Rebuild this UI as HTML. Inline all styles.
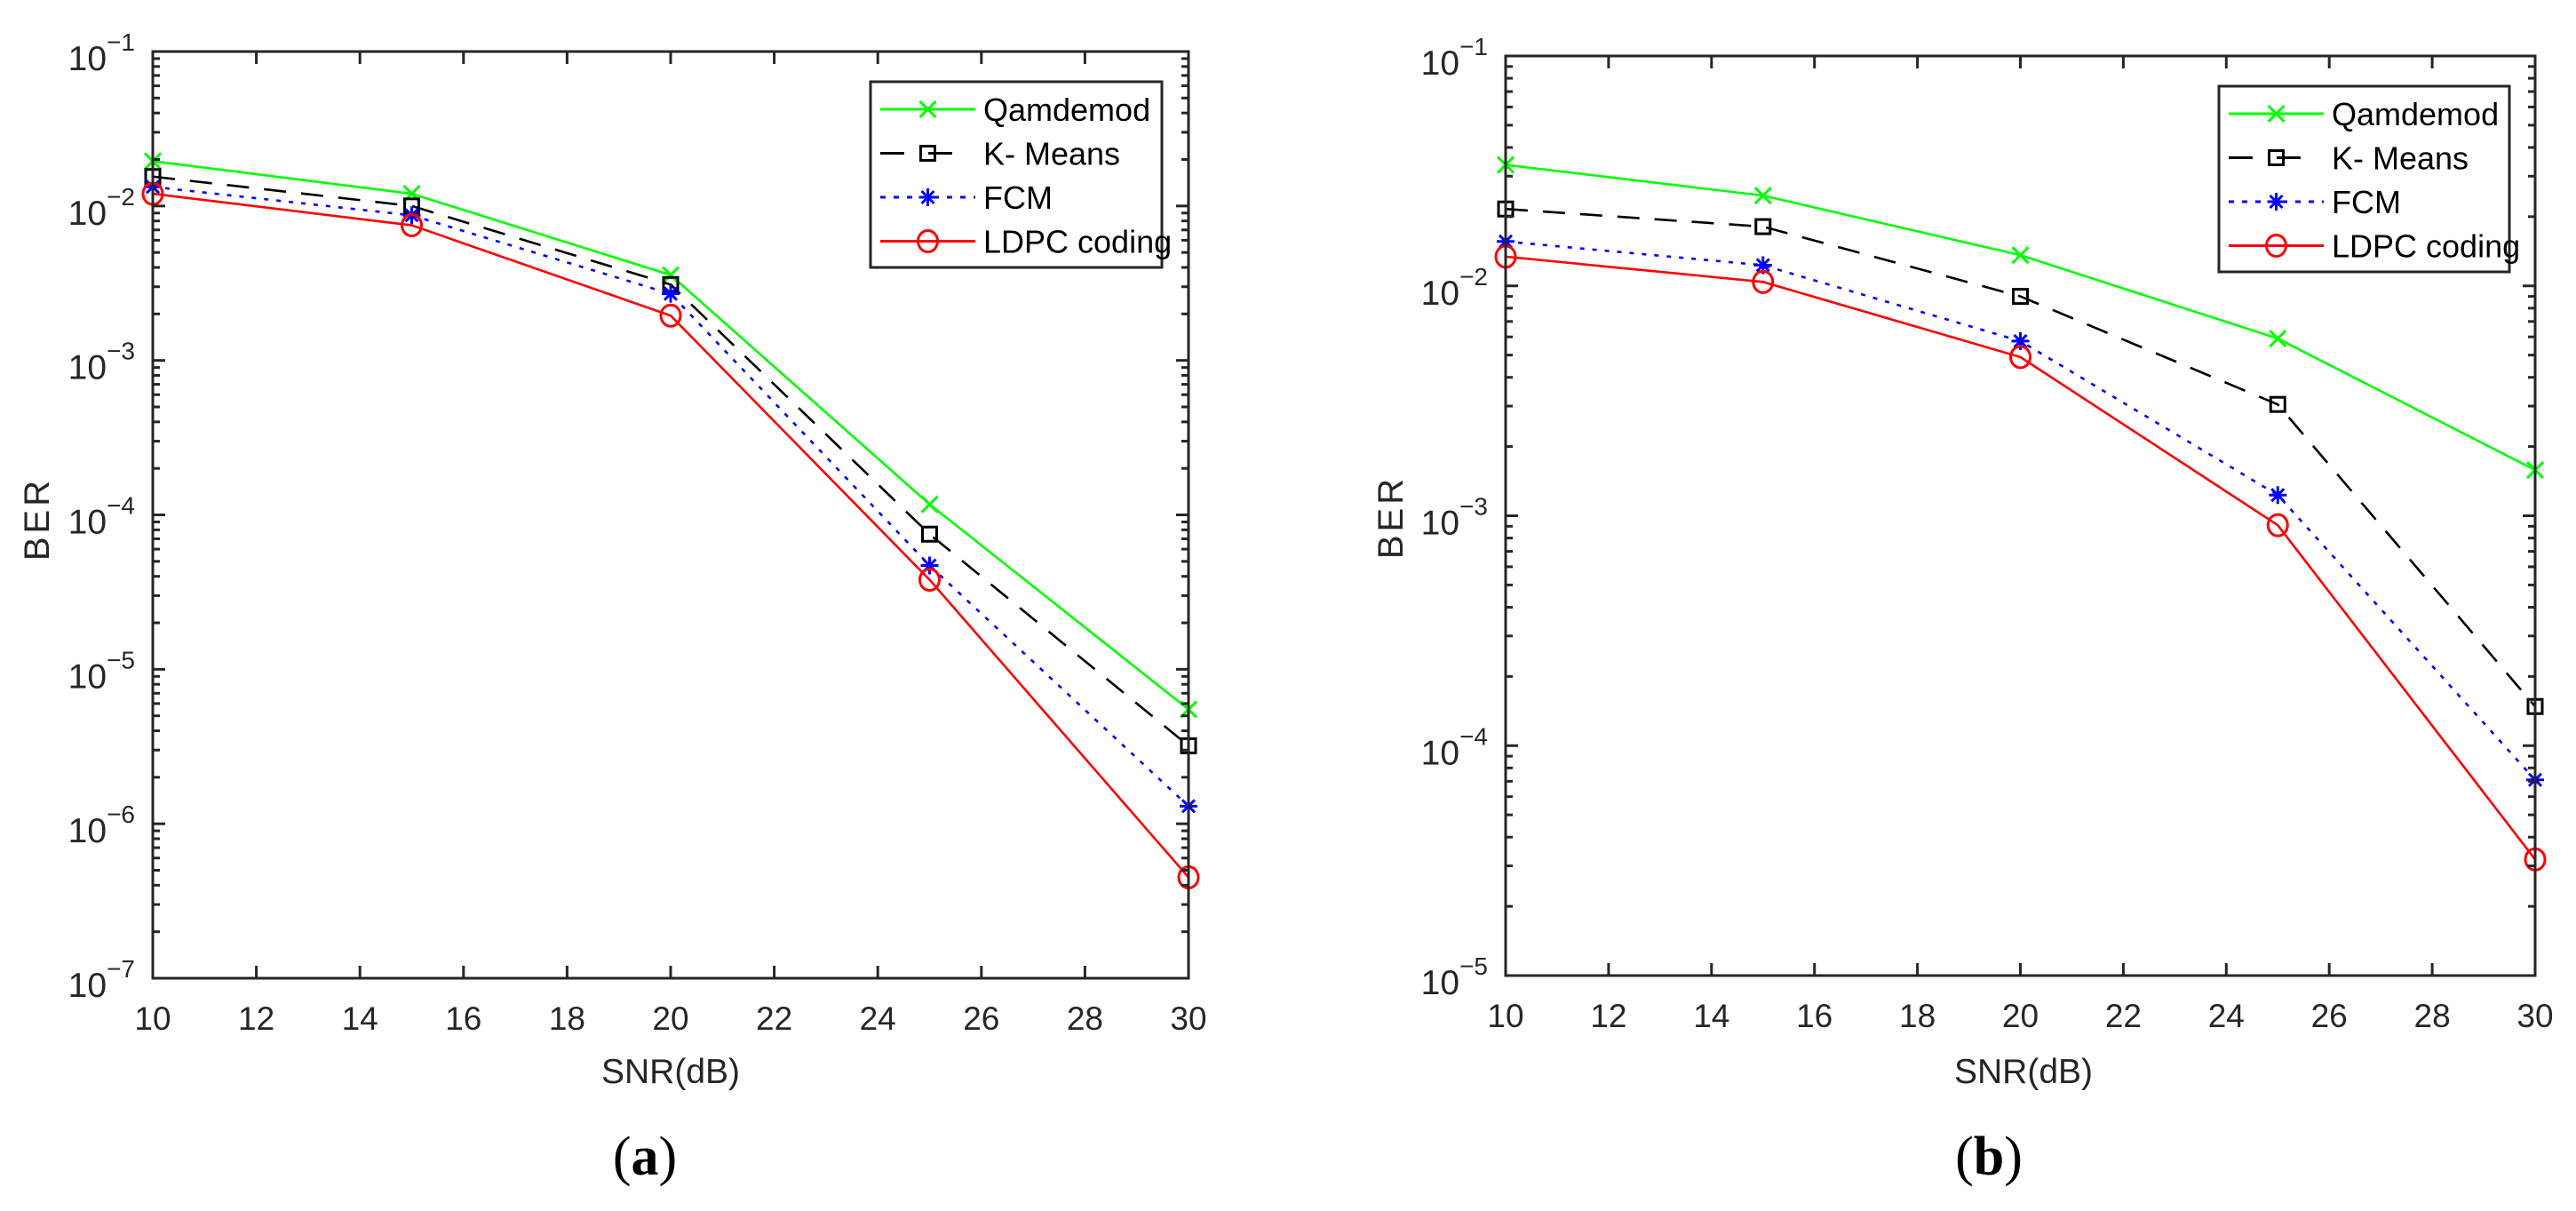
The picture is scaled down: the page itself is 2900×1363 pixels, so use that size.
<!DOCTYPE html>
<html><head><meta charset="utf-8"><title>BER vs SNR</title>
<style>html,body{margin:0;padding:0;background:#fff;}svg{display:block;}</style></head>
<body>
<svg id="fig" width="2900" height="1363" viewBox="0 0 2900 1363" xmlns="http://www.w3.org/2000/svg" font-family="Liberation Sans, Arial, sans-serif"></svg>
<script>
const snr = [10, 15, 20, 25, 30];
const seriesNames = ["Qamdemod", "K- Means", "FCM", "LDPC coding"];
const xTicks = [10, 12, 14, 16, 18, 20, 22, 24, 26, 28, 30];
// Panel (a)
const aQam  = [0.0195, 0.012, 0.00357, 1.17e-4, 5.5e-6];
const aKM   = [0.0155, 0.0100, 0.0031, 7.5e-5, 3.2e-6];
const aFCM  = [0.0133, 0.0087, 0.0027, 4.7e-5, 1.3e-6];
const aLDPC = [0.0120, 0.0075, 0.00195, 3.8e-5, 4.5e-7];
const aDecades = [-1, -2, -3, -4, -5, -6, -7];
// Panel (b)
const bQam  = [0.0336, 0.0247, 0.0136, 0.0059, 1.58e-3];
const bKM   = [0.0216, 0.0181, 0.0090, 3.05e-3, 1.48e-4];
const bFCM  = [0.0156, 0.0123, 0.00575, 1.23e-3, 7.1e-5];
const bLDPC = [0.0134, 0.0104, 0.0049, 9.1e-4, 3.2e-5];
const bDecades = [-1, -2, -3, -4, -5];

const NS = "http://www.w3.org/2000/svg";
const svg = document.getElementById('fig');
function mk(tag, attrs, parent) {
  const e = document.createElementNS(NS, tag);
  for (const k in attrs) e.setAttribute(k, attrs[k]);
  (parent || svg).appendChild(e);
  return e;
}
const styles = [
  {color: "#00ff00", dash: null, marker: "x"},
  {color: "#000000", dash: "25 17", marker: "s"},
  {color: "#0000ff", dash: "5 9", marker: "*"},
  {color: "#ff0000", dash: null, marker: "o"}
];
function marker(g, type, cx, cy, color) {
  let m;
  if (type === "x") {
    const r = 9;
    m = mk('path', {d:`M${cx-r},${cy-r}L${cx+r},${cy+r}M${cx-r},${cy+r}L${cx+r},${cy-r}`, stroke:color, 'stroke-width':3, fill:'none'}, g);
  } else if (type === "s") {
    m = mk('rect', {x:cx-8, y:cy-8, width:16, height:16, stroke:color, 'stroke-width':3, fill:'none'}, g);
  } else if (type === "*") {
    const r = 10, d = 7;
    m = mk('path', {d:`M${cx},${cy-r}L${cx},${cy+r}M${cx-r},${cy}L${cx+r},${cy}M${cx-d},${cy-d}L${cx+d},${cy+d}M${cx-d},${cy+d}L${cx+d},${cy-d}`, stroke:color, 'stroke-width':3, fill:'none'}, g);
  } else {
    m = mk('ellipse', {cx:cx, cy:cy, rx:11, ry:12, stroke:color, 'stroke-width':3, fill:'none'}, g);
  }
  
  
}
function panel(cfg) {
  const {L, R, T, B, decades, data, legend, tag, berX, berY, snrX, tagX} = cfg;
  const g = mk('g', {});
  
  
  const top = decades[0], bot = decades[decades.length - 1];
  const xs = v => L + (v - 10) / 20 * (R - L);
  const ys = v => T + (top - Math.log10(v)) / (top - bot) * (B - T);
  data.forEach((arr, si) => {
    const st = styles[si];
    const sg = mk('g', {}, g);
    
    
    const pts = arr.map((v, i) => xs(snr[i]) + ',' + ys(v)).join(' ');
    const pl = mk('polyline', {points: pts, fill: 'none', stroke: st.color, 'stroke-width': 2.6}, sg);
    if (st.dash) pl.setAttribute('stroke-dasharray', st.dash);
    
    
    arr.forEach((v, i) => marker(sg, st.marker, xs(snr[i]), ys(v), st.color));
  });
  const ax = mk('g', {stroke: '#262626', 'stroke-width': 3, fill: 'none'}, g);
  
  
  mk('rect', {x: L, y: T, width: R - L, height: B - T}, ax);
  xTicks.forEach(t => {
    const x = xs(t);
    mk('line', {x1: x, y1: B, x2: x, y2: B - 14}, ax);
    mk('line', {x1: x, y1: T, x2: x, y2: T + 14}, ax);
    const tl = mk('text', {x: x, y: B + 58, 'font-size': 37, fill: '#262626', 'text-anchor': 'middle'}, g);
    tl.textContent = t;
    
    
  });
  decades.forEach((d, di) => {
    const y = ys(Math.pow(10, d));
    mk('line', {x1: L, y1: y, x2: L + 14, y2: y}, ax);
    mk('line', {x1: R, y1: y, x2: R - 14, y2: y}, ax);
    if (di < decades.length - 1) {
      for (let k = 2; k <= 9; k++) {
        const yy = ys(k * Math.pow(10, d - 1));
        mk('line', {x1: L, y1: yy, x2: L + 8, y2: yy}, ax);
        mk('line', {x1: R, y1: yy, x2: R - 8, y2: yy}, ax);
      }
    }
    const tl = mk('text', {x: L - 20, y: y + 21, 'font-size': 39, fill: '#262626', 'text-anchor': 'end'}, g);
    
    
    const b = mk('tspan', {}, tl); b.textContent = '10';
    const s = mk('tspan', {dy: -22, 'font-size': 28}, tl); s.textContent = '\u2212' + Math.abs(d);
  });
  const xt = mk('text', {x: snrX, y: 1219, 'font-size': 39, fill: '#262626', 'text-anchor': 'middle'}, g);
  xt.textContent = 'SNR(dB)';
  
  
  const yt = mk('text', {x: berX, y: berY, 'font-size': 40, fill: '#262626', 'text-anchor': 'middle', 'letter-spacing': 4, transform: `rotate(-90 ${berX} ${berY})`, dy: 14}, g);
  yt.textContent = 'BER';
  
  
  const pt = mk('text', {x: tagX, y: 1322, 'font-size': 62, fill: '#000', 'text-anchor': 'middle', 'font-family': 'Liberation Serif, serif'}, g);
  
  
  const p1 = mk('tspan', {}, pt); p1.textContent = '(';
  const p2 = mk('tspan', {'font-weight': 'bold'}, pt); p2.textContent = tag;
  const p3 = mk('tspan', {}, pt); p3.textContent = ')';
  const lg = mk('g', {}, g);
  
  
  mk('rect', {x: legend.x, y: legend.y, width: legend.w, height: legend.h, fill: '#fff', stroke: '#262626', 'stroke-width': 3}, lg);
  seriesNames.forEach((n, i) => {
    const st = styles[i];
    const ey = legend.y + 31 + i * 49.5;
    const eg = mk('g', {}, lg);
    
    
    const x1 = legend.x + 11, x2 = legend.x + 118;
    const ln = mk('line', {x1: x1, y1: ey, x2: x2, y2: ey, stroke: st.color, 'stroke-width': 3}, eg);
    if (st.dash) ln.setAttribute('stroke-dasharray', st.marker === 's' ? '27 27' : '6 9');
    marker(eg, st.marker, (x1 + x2) / 2, ey, st.color);
    const tx = mk('text', {x: legend.x + 127, y: ey + 13, 'font-size': 36, fill: '#000'}, eg);
    tx.textContent = n;
  });
}
panel({L: 172, R: 1338, T: 58, B: 1101, decades: aDecades, data: [aQam, aKM, aFCM, aLDPC],
  legend: {x: 980, y: 92, w: 328, h: 209}, tag: 'a', berX: 41, berY: 584, snrX: 755, tagX: 726});
panel({L: 1695, R: 2854, T: 63, B: 1098, decades: bDecades, data: [bQam, bKM, bFCM, bLDPC],
  legend: {x: 2498, y: 97, w: 327, h: 209}, tag: 'b', berX: 1565, berY: 582, snrX: 2278, tagX: 2239});
</script>
</body></html>
